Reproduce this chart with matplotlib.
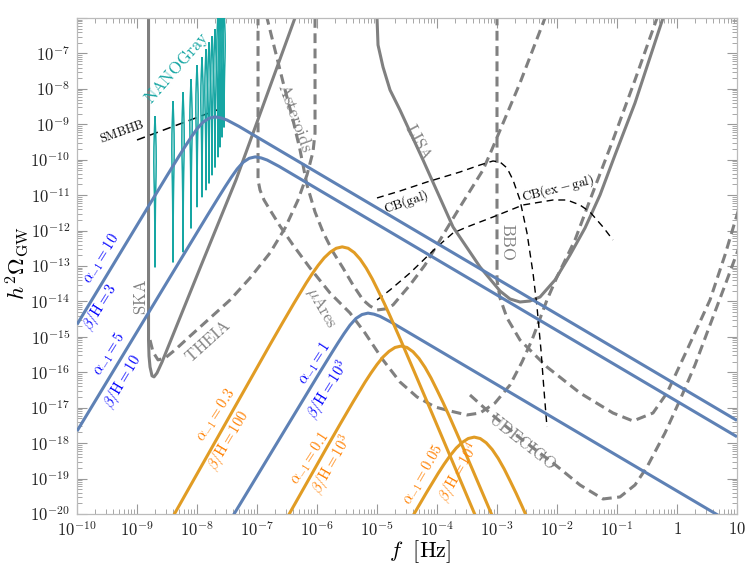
import numpy as np
import matplotlib
matplotlib.use("Agg")
import matplotlib.pyplot as plt
from matplotlib.ticker import FixedLocator, FuncFormatter, NullFormatter

plt.rcParams['mathtext.fontset'] = 'cm'
plt.rcParams['font.family'] = ['DejaVu Serif']

# ---------------- data (log10 f [Hz], log10 h^2 Omega_GW) ----------------
# phase-transition spectra (blue)
blueA_lf = [-10.0, -9.2, -8.9, -8.7, -8.5, -8.3, -8.2, -8.1, -8.0, -7.9, -7.8, -7.7, -7.6, -7.5, -7.4, -7.3, -7.2, -7.1, -7.0, -6.9, -6.7, -6.5, -6.2, -5.7, 1.0]
blueA_lo = [-14.65, -12.41, -11.57, -11.01, -10.45, -9.90, -9.63, -9.37, -9.13, -8.94, -8.83, -8.79, -8.82, -8.88, -8.97, -9.06, -9.16, -9.26, -9.36, -9.46, -9.66, -9.86, -10.16, -10.66, -17.36]
blueB_lf = [-10.0, -8.53, -8.23, -8.03, -7.83, -7.63, -7.53, -7.43, -7.33, -7.23, -7.13, -7.03, -6.93, -6.83, -6.73, -6.63, -6.53, -6.43, -6.33, -6.23, -6.03, -5.83, -5.53, -5.03, 1.0]
blueB_lo = [-17.66, -13.54, -12.70, -12.14, -11.58, -11.03, -10.76, -10.50, -10.26, -10.07, -9.96, -9.92, -9.95, -10.01, -10.10, -10.19, -10.29, -10.39, -10.49, -10.59, -10.79, -10.99, -11.29, -11.79, -17.82]
blueC_lf = [-7.50, -6.65, -6.35, -6.15, -5.95, -5.75, -5.65, -5.55, -5.45, -5.35, -5.25, -5.15, -5.05, -4.95, -4.85, -4.75, -4.65, -4.55, -4.45, -4.35, -4.15, -3.95, -3.65, -3.15, 1.0]
blueC_lo = [-20.33, -17.95, -17.11, -16.55, -15.99, -15.44, -15.17, -14.91, -14.67, -14.48, -14.37, -14.33, -14.36, -14.42, -14.51, -14.60, -14.70, -14.80, -14.90, -15.00, -15.20, -15.40, -15.70, -16.20, -20.35]

# phase-transition spectra (orange)
orA_lf = [-8.58, -7.58, -7.08, -6.78, -6.58, -6.38, -6.18, -6.08, -5.98, -5.88, -5.78, -5.68, -5.58, -5.48, -5.38, -5.28, -5.18, -5.08, -4.98, -4.88, -4.78, -4.58, -4.38, -4.08, -3.58, -3.08]
orA_lo = [-20.61, -17.61, -16.11, -15.21, -14.62, -14.04, -13.48, -13.22, -12.98, -12.77, -12.61, -12.50, -12.46, -12.50, -12.62, -12.81, -13.06, -13.36, -13.70, -14.05, -14.42, -15.19, -15.98, -17.17, -19.17, -21.17]
orB_lf = [-6.60, -6.10, -5.80, -5.60, -5.40, -5.20, -5.10, -5.00, -4.90, -4.80, -4.70, -4.60, -4.50, -4.40, -4.30, -4.20, -4.10, -4.00, -3.90, -3.80, -3.60, -3.40, -3.10, -2.60]
orB_lo = [-20.41, -18.91, -18.01, -17.42, -16.84, -16.28, -16.02, -15.78, -15.57, -15.41, -15.30, -15.26, -15.30, -15.42, -15.61, -15.86, -16.16, -16.50, -16.85, -17.22, -17.99, -18.78, -19.97, -21.97]
orC_lf = [-4.58, -4.38, -4.18, -3.98, -3.88, -3.78, -3.68, -3.58, -3.48, -3.38, -3.28, -3.18, -3.08, -2.98, -2.88, -2.78, -2.68, -2.58, -2.38, -2.18]
orC_lo = [-20.58, -19.99, -19.41, -18.85, -18.59, -18.35, -18.14, -17.98, -17.87, -17.83, -17.87, -17.99, -18.18, -18.43, -18.73, -19.07, -19.42, -19.79, -20.56, -21.35]

# detector sensitivity curves (gray)
ska_lf = [-8.808, -8.808, -8.80, -8.783, -8.75, -8.717, -8.667, -8.583, -7.95, -7.35, -6.26]
ska_lo = [-5.5, -15.09, -15.54, -15.85, -16.10, -16.13, -16.02, -15.71, -13.06, -10.57, -5.5]
theia_lf = [-8.783, -8.733, -8.65, -8.533, -8.367, -8.117, -7.783, -7.45, -7.117, -6.783, -6.533, -6.317, -6.167, -6.067, -6.033, -6.033]
theia_lo = [-15.09, -15.43, -15.65, -15.60, -15.37, -14.98, -14.47, -13.96, -13.34, -12.63, -11.93, -11.14, -10.43, -9.78, -9.25, -5.5]
ast_lf = [-6.907, -6.833, -6.70, -6.567, -6.40, -6.283, -6.167, -6.033, -5.90, -5.733, -5.567, -5.40, -5.233, -5.117, -5.0, -4.867, -4.733, -4.45, -4.20, -3.95, -3.617, -3.233, -3.067, -2.617, -2.20, -2.086]
ast_lo = [-5.5, -6.0, -6.903, -7.806, -8.879, -9.726, -10.714, -11.476, -12.040, -12.605, -13.056, -13.536, -13.959, -14.129, -14.242, -14.213, -14.100, -13.536, -12.971, -12.266, -11.334, -10.290, -9.641, -7.835, -6.0, -5.5]
mu_lf = [-6.983, -6.983, -6.95, -6.883, -6.783, -6.617, -6.40, -6.117, -5.783, -5.45, -5.20, -4.90, -4.617, -4.333, -4.033, -3.783, -3.50, -3.283, -3.033, -2.783, -2.583, -2.417, -2.167, -2.0, -1.70, -1.45, -1.067, -0.70, -0.333, -0.228]
mu_lo = [-5.5, -10.572, -10.855, -11.137, -11.419, -11.871, -12.407, -13.056, -13.762, -14.326, -14.891, -15.653, -16.274, -16.697, -16.979, -17.092, -17.205, -17.149, -16.866, -16.358, -15.709, -15.088, -13.959, -13.310, -12.266, -11.137, -9.443, -7.750, -6.0, -5.5]
lisa_lf = [-5.008, -5.0, -4.983, -4.90, -4.783, -4.617, -4.233, -3.733, -3.283, -2.95, -2.783, -2.617, -2.45, -2.283, -2.033, -1.783, -1.533, -1.283, -1.033, -0.70, -0.233, -0.136]
lisa_lo = [-5.5, -6.0, -6.762, -7.383, -8.032, -8.597, -10.008, -11.899, -13.028, -13.705, -13.931, -14.016, -13.988, -13.875, -13.395, -12.689, -11.927, -10.996, -9.867, -8.399, -6.0, -5.5]
bbo_lf = [-3.0, -3.0, -2.95, -2.833, -2.617, -2.167, -1.617, -1.067, -0.733, -0.40, -0.167, 0.167, 0.55, 0.80, 1.05]
bbo_lo = [-5.5, -13.395, -13.903, -14.467, -15.088, -15.850, -16.584, -17.149, -17.375, -17.149, -16.584, -15.371, -13.959, -12.689, -11.278]
udec_lf = [-3.45, -3.117, -2.617, -2.067, -1.617, -1.233, -0.95, -0.70, -0.50, -0.20, 0.05, 0.30, 0.50, 0.833, 1.05]
udec_lo = [-16.641, -17.149, -17.854, -18.560, -19.181, -19.576, -19.519, -19.181, -18.673, -17.713, -16.782, -15.794, -14.891, -13.395, -12.407]

# astrophysical foregrounds (black dashed)
cbg_lf = [-5.0, -4.617, -4.167, -3.617, -3.283, -3.067, -2.95, -2.833, -2.733, -2.617, -2.50, -2.40, -2.333, -2.267, -2.217, -2.167]
cbg_lo = [-11.080, -10.883, -10.629, -10.347, -10.149, -10.036, -10.064, -10.234, -10.572, -11.137, -12.068, -13.197, -14.157, -15.371, -16.500, -17.544]
cbx_lf = [-5.0, -4.783, -4.45, -4.0, -3.733, -3.50, -3.067, -2.567, -2.067, -1.833, -1.617, -1.45, -1.233, -1.067]
cbx_lo = [-13.959, -13.677, -13.197, -12.463, -12.068, -11.899, -11.617, -11.278, -11.137, -11.137, -11.278, -11.476, -11.899, -12.266]
smbhb_lf = [-9.0, -7.533]
smbhb_lo = [-9.443, -8.512]

# NANOGrav violins: frequency bins, top and bottom of each violin
nano_lf = [-8.70, -8.40, -8.233, -8.10, -8.00, -7.917, -7.85, -7.80, -7.75, -7.70, -7.65, -7.617, -7.583, -7.55]
nano_top = [-8.79, -8.37, -8.12, -7.75, -7.35, -7.13, -6.90, -6.71, -6.54, -6.34, -5.8, -5.8, -5.8, -5.8]
nano_bot = [-13.03, -12.89, -12.60, -11.93, -11.33, -11.05, -10.85, -10.66, -10.43, -10.21, -9.92, -9.64, -9.36, -9.08]

# ---------------- styles ----------------
BLUE = '#5E81B5'
ORANGE = '#E19C24'
GRAY = '#808080'
TEAL = '#16A6A3'
LW = 2.2
DASH = (0, (3.2, 1.8))


def P(lf, lo):
    return 10.0 ** np.asarray(lf), 10.0 ** np.asarray(lo)


fig = plt.figure(figsize=(7.47, 5.75), dpi=100)
ax = fig.add_axes([0.1031, 0.1061, 0.8835, 0.8626])
ax.set_xscale('log')
ax.set_yscale('log')
ax.set_xlim(1e-10, 10)
ax.set_ylim(1e-20, 1e-6)

# detectors
ax.plot(*P(ska_lf, ska_lo), color=GRAY, lw=LW, zorder=2)
ax.plot(*P(lisa_lf, lisa_lo), color=GRAY, lw=LW, zorder=2)
for lf, lo in [(theia_lf, theia_lo), (ast_lf, ast_lo), (mu_lf, mu_lo), (bbo_lf, bbo_lo), (udec_lf, udec_lo)]:
    ax.plot(*P(lf, lo), color=GRAY, lw=LW, ls=DASH, zorder=2)

# foregrounds
ax.plot(*P(cbg_lf, cbg_lo), color='black', lw=1.0, ls=(0, (5, 3.5)), zorder=3)
ax.plot(*P(cbx_lf, cbx_lo), color='black', lw=1.0, ls=(0, (5, 3.5)), zorder=3)
ax.plot(*P(smbhb_lf, smbhb_lo), color='black', lw=1.1, ls=(0, (5.5, 3.5)), zorder=3)

# NANOGrav violins (outline glyph)
frac = np.array([0.0, 0.05, 0.12, 0.2, 0.3, 0.4, 0.5, 0.62, 0.75, 0.9, 1.0])
prof = np.array([0.0, 0.25, 0.6, 0.9, 1.0, 0.85, 0.55, 0.3, 0.15, 0.06, 0.0])
half = 0.02
for lf, top, bot in zip(nano_lf, nano_top, nano_bot):
    yy = top - frac * (top - bot)
    xl = lf - half * prof
    xr = lf + half * prof
    xs = np.concatenate([xl, xr[::-1]])
    ys = np.concatenate([yy, yy[::-1]])
    ax.plot(10.0 ** xs, 10.0 ** ys, color=TEAL, lw=1.1, zorder=4)

# spectra
for lf, lo in [(blueA_lf, blueA_lo), (blueB_lf, blueB_lo), (blueC_lf, blueC_lo)]:
    ax.plot(*P(lf, lo), color=BLUE, lw=LW, zorder=5, solid_capstyle='butt')
for lf, lo in [(orA_lf, orA_lo), (orB_lf, orB_lo), (orC_lf, orC_lo)]:
    ax.plot(*P(lf, lo), color=ORANGE, lw=LW, zorder=6, solid_capstyle='butt')

# ---------------- axes styling ----------------
xt = np.arange(-10, 2)
yt = np.arange(-20, -5)
ax.xaxis.set_major_locator(FixedLocator(10.0 ** xt))
ax.yaxis.set_major_locator(FixedLocator(10.0 ** yt))
xminor = [m * 10.0 ** e for e in range(-10, 1) for m in range(2, 10)]
yminor = [m * 10.0 ** e for e in range(-20, -6) for m in range(2, 10)]
ax.xaxis.set_minor_locator(FixedLocator(xminor))
ax.yaxis.set_minor_locator(FixedLocator(yminor))


def xfmt(v, pos):
    e = int(round(np.log10(v)))
    if e == 0:
        return r'$1$'
    if e == 1:
        return r'$10$'
    return r'$10^{%d}$' % e


def yfmt(v, pos):
    e = int(round(np.log10(v)))
    if e >= -6:
        return ''
    return r'$10^{%d}$' % e


ax.xaxis.set_major_formatter(FuncFormatter(xfmt))
ax.yaxis.set_major_formatter(FuncFormatter(yfmt))
ax.xaxis.set_minor_formatter(NullFormatter())
ax.yaxis.set_minor_formatter(NullFormatter())
ax.tick_params(which='both', direction='in', top=True, right=True, color='#999999', labelcolor='#222222')
ax.tick_params(which='major', length=7, width=0.8, labelsize=12, pad=5)
ax.tick_params(which='minor', length=3.5, width=0.6)
for s in ax.spines.values():
    s.set_color('#bbbbbb')
    s.set_linewidth(0.9)

ax.text(0.52, -0.076, r'$f\ \ [\mathrm{Hz}]$', transform=ax.transAxes, fontsize=16,
        ha='center', va='center')
ax.text(-0.09, 0.505, r'$h^2\Omega_{\rm GW}$', transform=ax.transAxes, fontsize=16.5,
        ha='center', va='center', rotation=90)


# ---------------- labels ----------------
def lab(lf, lo, s, rot, color, size):
    ax.text(10.0 ** lf, 10.0 ** lo, s, rotation=rot, color=color, fontsize=size,
            ha='center', va='center', rotation_mode='anchor', zorder=8)


lab(-8.333, -7.411, r'$\mathrm{NANOGray}$', 49, TEAL, 12)
lab(-9.25, -9.218, r'$\mathrm{SMBHB}$', 20, 'black', 9)
lab(-8.917, -13.875, r'$\mathrm{SKA}$', 90, GRAY, 12)
lab(-7.817, -15.117, r'$\mathrm{THEIA}$', 42, GRAY, 12)
lab(-6.367, -8.822, r'$\mathrm{Asteroids}$', -70, GRAY, 12.5)
lab(-5.933, -14.185, r'$\mu\mathrm{Ares}$', -60, GRAY, 12)
lab(-4.317, -9.50, r'$\mathrm{LISA}$', -62, GRAY, 12)
lab(-2.817, -12.322, r'$\mathrm{BBO}$', -90, GRAY, 12)
lab(-2.58, -17.97, r'$\mathrm{UDECIGO}$', -38, GRAY, 12)
lab(-4.517, -11.193, r'$\mathrm{CB(gal)}$', 19, 'black', 9.5)
lab(-1.983, -10.798, r'$\mathrm{CB(ex-gal)}$', 14, 'black', 9.5)

B = '#0000FF'
O = '#FF8000'
lab(-9.59, -12.80, r'$\alpha_{-1} = 10$', 58, B, 10.5)
lab(-9.617, -14.15, r'$\beta/\mathrm{H} = 3$', 58, B, 10.5)
lab(-9.46, -15.47, r'$\alpha_{-1} = 5$', 58, B, 10.5)
lab(-9.233, -16.273, r'$\beta/\mathrm{H} = 10$', 59, B, 10.5)
lab(-6.04, -15.74, r'$\alpha_{-1} = 1$', 57, B, 10.5)
lab(-5.817, -16.50, r'$\beta/\mathrm{H} = 10^3$', 58, B, 10.5)
lab(-7.683, -17.205, r'$\alpha_{-1} = 0.3$', 57, O, 10.5)
lab(-7.467, -17.911, r'$\beta/\mathrm{H} = 100$', 59, O, 10.5)
lab(-6.117, -18.419, r'$\alpha_{-1} = 0.1$', 57, O, 10.5)
lab(-5.75, -18.616, r'$\beta/\mathrm{H} = 10^3$', 60, O, 10.5)
lab(-4.233, -18.899, r'$\alpha_{-1} = 0.05$', 60, O, 10.5)
lab(-3.633, -18.814, r'$\beta/\mathrm{H} = 10^4$', 60, O, 10.5)

fig.savefig('out.png', dpi=100)
